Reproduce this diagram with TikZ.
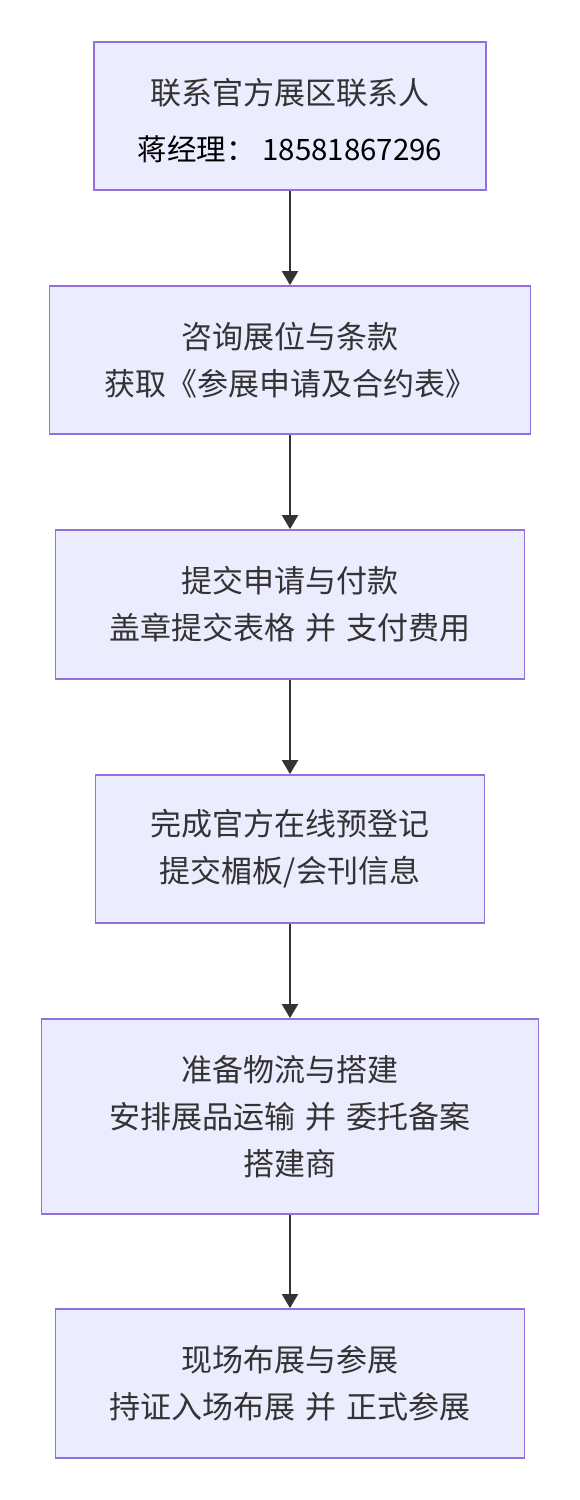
\documentclass[tikz,border=0pt]{standalone}
\usepackage{fontspec}
\setmainfont{Noto Sans CJK SC}
\usetikzlibrary{arrows.meta}
\definecolor{boxfill}{HTML}{ECECFF}
\definecolor{boxline}{HTML}{9370DB}
\definecolor{txt}{HTML}{333333}
\newcommand{\boxfont}{\fontsize{31}{47}\selectfont\spaceskip=10pt\relax}
\newcommand{\contactfont}{\fontsize{29.5}{47}\selectfont\spaceskip=0pt\relax}
\begin{document}
\begin{tikzpicture}[x=1pt,y=1pt,
  stepbox/.style={draw=boxline, fill=boxfill, line width=1.8pt, inner sep=0pt,
    align=center, text=txt, font=\boxfont},
  flow/.style={draw=txt, line width=2pt, -{Triangle[length=14pt,width=16pt]}}]
\useasboundingbox (0,0) rectangle (579,-1500);
\node[stepbox, minimum width=392pt, minimum height=148pt] (s1) at (290,-116)
  {\rule{0pt}{36pt}联系官方展区联系人\\[9pt]{\contactfont\textcolor{black}{蒋经理： 18581867296}}};
\node[stepbox, minimum width=481pt, minimum height=148pt] (s2) at (290,-360)
  {咨询展位与条款\\获取《参展申请及合约表》};
\node[stepbox, minimum width=469pt, minimum height=149pt] (s3) at (290,-604.5)
  {提交申请与付款\\盖章提交表格 并 支付费用};
\node[stepbox, minimum width=389pt, minimum height=148pt] (s4) at (290,-849)
  {完成官方在线预登记\\提交楣板/会刊信息};
\node[stepbox, minimum width=497pt, minimum height=195pt] (s5) at (290,-1116.5)
  {准备物流与搭建\\安排展品运输 并 委托备案\\搭建商};
\node[stepbox, minimum width=469pt, minimum height=149pt] (s6) at (290,-1383.5)
  {现场布展与参展\\持证入场布展 并 正式参展};
\draw[flow] (s1) -- (s2);
\draw[flow] (s2) -- (s3);
\draw[flow] (s3) -- (s4);
\draw[flow] (s4) -- (s5);
\draw[flow] (s5) -- (s6);
\end{tikzpicture}
\end{document}
